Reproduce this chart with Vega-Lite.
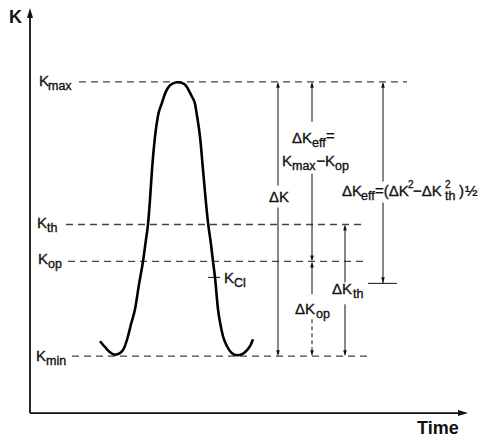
{
  "$schema": "https://vega.github.io/schema/vega-lite/v6.json",
  "width": 486,
  "height": 438,
  "padding": 0,
  "autosize": {"type": "fit", "contains": "padding"},
  "config": {"view": {"stroke": null}, "text": {"font": "Liberation Sans"}},
  "datasets": {
    "levels": [
      {"name": "Kmax", "t": 79, "t2": 407, "k": 356},
      {"name": "Kth", "t": 66, "t2": 366, "k": 213},
      {"name": "Kop", "t": 68, "t2": 368, "k": 176},
      {"name": "Kmin", "t": 72, "t2": 368, "k": 81}
    ],
    "axes": [
      {"t": 30, "t2": 30, "k": 24, "k2": 422},
      {"t": 30, "t2": 459, "k": 24, "k2": 24}
    ],
    "axisHeads": [
      {"t": 30, "k": 425, "dir": "up"},
      {"t": 463, "k": 24, "dir": "right"}
    ],
    "dims": [
      {"t": 278, "t2": 278, "k": 354, "k2": 252, "style": "solid"},
      {"t": 278, "t2": 278, "k": 230, "k2": 83, "style": "solid"},
      {"t": 312, "t2": 312, "k": 354, "k2": 316, "style": "solid"},
      {"t": 312, "t2": 312, "k": 264, "k2": 178, "style": "solid"},
      {"t": 312, "t2": 312, "k": 174, "k2": 143, "style": "solid"},
      {"t": 312, "t2": 312, "k": 118, "k2": 83, "style": "dotted"},
      {"t": 345, "t2": 345, "k": 211, "k2": 155, "style": "solid"},
      {"t": 345, "t2": 345, "k": 133, "k2": 83, "style": "solid"},
      {"t": 383, "t2": 383, "k": 354, "k2": 256, "style": "solid"},
      {"t": 383, "t2": 383, "k": 235, "k2": 154, "style": "solid"},
      {"t": 368, "t2": 397, "k": 154, "k2": 154, "style": "solid"},
      {"t": 208, "t2": 220, "k": 160, "k2": 160, "style": "solid"}
    ],
    "heads": [
      {"t": 278, "k": 353, "dir": "up"},
      {"t": 312, "k": 353, "dir": "up"},
      {"t": 312, "k": 173, "dir": "up"},
      {"t": 345, "k": 210, "dir": "up"},
      {"t": 383, "k": 353, "dir": "up"},
      {"t": 278, "k": 84, "dir": "down"},
      {"t": 312, "k": 179, "dir": "down"},
      {"t": 312, "k": 84, "dir": "down"},
      {"t": 345, "k": 84, "dir": "down"},
      {"t": 383, "k": 157, "dir": "down"}
    ],
    "curve": [
      {"t": 100, "k": 96}, {"t": 106, "k": 89}, {"t": 110, "k": 85}, {"t": 115, "k": 82.5},
      {"t": 120, "k": 84}, {"t": 124, "k": 89}, {"t": 128, "k": 101}, {"t": 131, "k": 113},
      {"t": 135, "k": 128}, {"t": 139, "k": 153}, {"t": 143, "k": 176}, {"t": 146, "k": 198},
      {"t": 148, "k": 213}, {"t": 150, "k": 238}, {"t": 152, "k": 268}, {"t": 155, "k": 301},
      {"t": 158, "k": 322}, {"t": 162, "k": 335}, {"t": 165, "k": 344}, {"t": 168, "k": 350},
      {"t": 172, "k": 354}, {"t": 178, "k": 355.5}, {"t": 184, "k": 354}, {"t": 186, "k": 352},
      {"t": 189, "k": 347}, {"t": 192, "k": 341}, {"t": 195, "k": 334}, {"t": 197, "k": 322},
      {"t": 200, "k": 301}, {"t": 203, "k": 268}, {"t": 205.5, "k": 240}, {"t": 208, "k": 215},
      {"t": 211, "k": 193}, {"t": 213, "k": 176}, {"t": 215, "k": 160}, {"t": 218, "k": 128},
      {"t": 221, "k": 110}, {"t": 223, "k": 101}, {"t": 227, "k": 91}, {"t": 232, "k": 84},
      {"t": 237, "k": 82}, {"t": 242, "k": 83}, {"t": 247, "k": 87}, {"t": 251, "k": 93},
      {"t": 253, "k": 98}
    ],
    "labels": [
      {"t": 39, "k": 357, "text": "K", "role": "main"},
      {"t": 48, "k": 357, "text": "max", "role": "sub"},
      {"t": 37, "k": 214, "text": "K", "role": "main"},
      {"t": 47, "k": 214, "text": "th", "role": "sub"},
      {"t": 38, "k": 178, "text": "K", "role": "main"},
      {"t": 48, "k": 178, "text": "op", "role": "sub"},
      {"t": 36, "k": 81, "text": "K", "role": "main"},
      {"t": 46, "k": 81, "text": "min", "role": "sub"},
      {"t": 224, "k": 159, "text": "K", "role": "main"},
      {"t": 234, "k": 159, "text": "Cl", "role": "sub"},
      {"t": 269, "k": 240.5, "text": "ΔK", "role": "main"},
      {"t": 292, "k": 300, "text": "ΔK", "role": "main"},
      {"t": 312, "k": 300, "text": "eff", "role": "sub"},
      {"t": 326, "k": 302, "text": "=", "role": "main"},
      {"t": 282, "k": 277, "text": "K", "role": "main"},
      {"t": 292, "k": 277, "text": "max", "role": "sub"},
      {"t": 316.5, "k": 277, "text": "−", "role": "main"},
      {"t": 325, "k": 277, "text": "K", "role": "main"},
      {"t": 335, "k": 277, "text": "op", "role": "sub"},
      {"t": 295, "k": 128, "text": "ΔK", "role": "main"},
      {"t": 316, "k": 128, "text": "op", "role": "sub"},
      {"t": 332, "k": 148, "text": "ΔK", "role": "main"},
      {"t": 353, "k": 148, "text": "th", "role": "sub"},
      {"t": 342, "k": 247, "text": "ΔK", "role": "main"},
      {"t": 361, "k": 247, "text": "eff", "role": "sub"},
      {"t": 375, "k": 247, "text": "=(ΔK", "role": "main"},
      {"t": 408, "k": 247, "text": "2", "role": "sup"},
      {"t": 413, "k": 247, "text": "−ΔK", "role": "main"},
      {"t": 445, "k": 247, "text": "2", "role": "sup"},
      {"t": 445, "k": 247, "text": "th", "role": "sub"},
      {"t": 459, "k": 247, "text": ")", "role": "main"},
      {"t": 465, "k": 247, "text": "½", "role": "main"},
      {"t": 9, "k": 419.5, "text": "K", "role": "title"},
      {"t": 417, "k": 8, "text": "Time", "role": "title"}
    ]
  },
  "encoding": {
    "x": {"field": "t", "type": "quantitative", "scale": {"domain": [0, 486], "nice": false, "zero": false}, "axis": null},
    "y": {"field": "k", "type": "quantitative", "scale": {"domain": [0, 438], "nice": false, "zero": false}, "axis": null}
  },
  "layer": [
    {
      "data": {"name": "levels"},
      "mark": {"type": "rule", "color": "#444", "strokeWidth": 1.3, "strokeDash": [7, 5]},
      "encoding": {"x2": {"field": "t2"}}
    },
    {
      "data": {"name": "axes"},
      "mark": {"type": "rule", "color": "#111", "strokeWidth": 1.8},
      "encoding": {"x2": {"field": "t2"}, "y2": {"field": "k2"}}
    },
    {
      "data": {"name": "axisHeads"},
      "transform": [{"filter": "datum.dir === 'up'"}],
      "mark": {"type": "point", "shape": "M0,-1L-0.6,1L0.6,1Z", "size": 100, "filled": true, "color": "#111", "opacity": 1}
    },
    {
      "data": {"name": "axisHeads"},
      "transform": [{"filter": "datum.dir === 'right'"}],
      "mark": {"type": "point", "shape": "M1,0L-1,-0.6L-1,0.6Z", "size": 100, "filled": true, "color": "#111", "opacity": 1}
    },
    {
      "data": {"name": "dims"},
      "transform": [{"filter": "datum.style === 'solid'"}],
      "mark": {"type": "rule", "color": "#111", "strokeWidth": 1},
      "encoding": {"x2": {"field": "t2"}, "y2": {"field": "k2"}}
    },
    {
      "data": {"name": "dims"},
      "transform": [{"filter": "datum.style === 'dotted'"}],
      "mark": {"type": "rule", "color": "#111", "strokeWidth": 1, "strokeDash": [4, 3]},
      "encoding": {"x2": {"field": "t2"}, "y2": {"field": "k2"}}
    },
    {
      "data": {"name": "heads"},
      "transform": [{"filter": "datum.dir === 'up'"}],
      "mark": {"type": "point", "shape": "M0,-1L-0.6,1L0.6,1Z", "size": 36, "filled": true, "color": "#111", "opacity": 1}
    },
    {
      "data": {"name": "heads"},
      "transform": [{"filter": "datum.dir === 'down'"}],
      "mark": {"type": "point", "shape": "M0,1L-0.6,-1L0.6,-1Z", "size": 36, "filled": true, "color": "#111", "opacity": 1}
    },
    {
      "data": {"name": "curve"},
      "mark": {"type": "line", "color": "#000", "strokeWidth": 2.6, "interpolate": "monotone"},
      "encoding": {"order": {"field": "t", "type": "quantitative"}}
    },
    {
      "data": {"name": "labels"},
      "transform": [{"filter": "datum.role === 'main'"}],
      "mark": {"type": "text", "align": "left", "baseline": "middle", "fontSize": 15, "fill": "#111", "stroke": "#111", "strokeWidth": 0.35},
      "encoding": {"text": {"field": "text"}}
    },
    {
      "data": {"name": "labels"},
      "transform": [{"filter": "datum.role === 'sub'"}],
      "mark": {"type": "text", "align": "left", "baseline": "middle", "fontSize": 12.5, "dy": 5, "fill": "#111", "stroke": "#111", "strokeWidth": 0.35},
      "encoding": {"text": {"field": "text"}}
    },
    {
      "data": {"name": "labels"},
      "transform": [{"filter": "datum.role === 'sup'"}],
      "mark": {"type": "text", "align": "left", "baseline": "middle", "fontSize": 10, "dy": -6, "fill": "#111", "stroke": "#111", "strokeWidth": 0.3},
      "encoding": {"text": {"field": "text"}}
    },
    {
      "data": {"name": "labels"},
      "transform": [{"filter": "datum.role === 'title'"}],
      "mark": {"type": "text", "align": "left", "baseline": "middle", "fontSize": 18, "fontWeight": "bold", "fill": "#111"},
      "encoding": {"text": {"field": "text"}}
    }
  ]
}
